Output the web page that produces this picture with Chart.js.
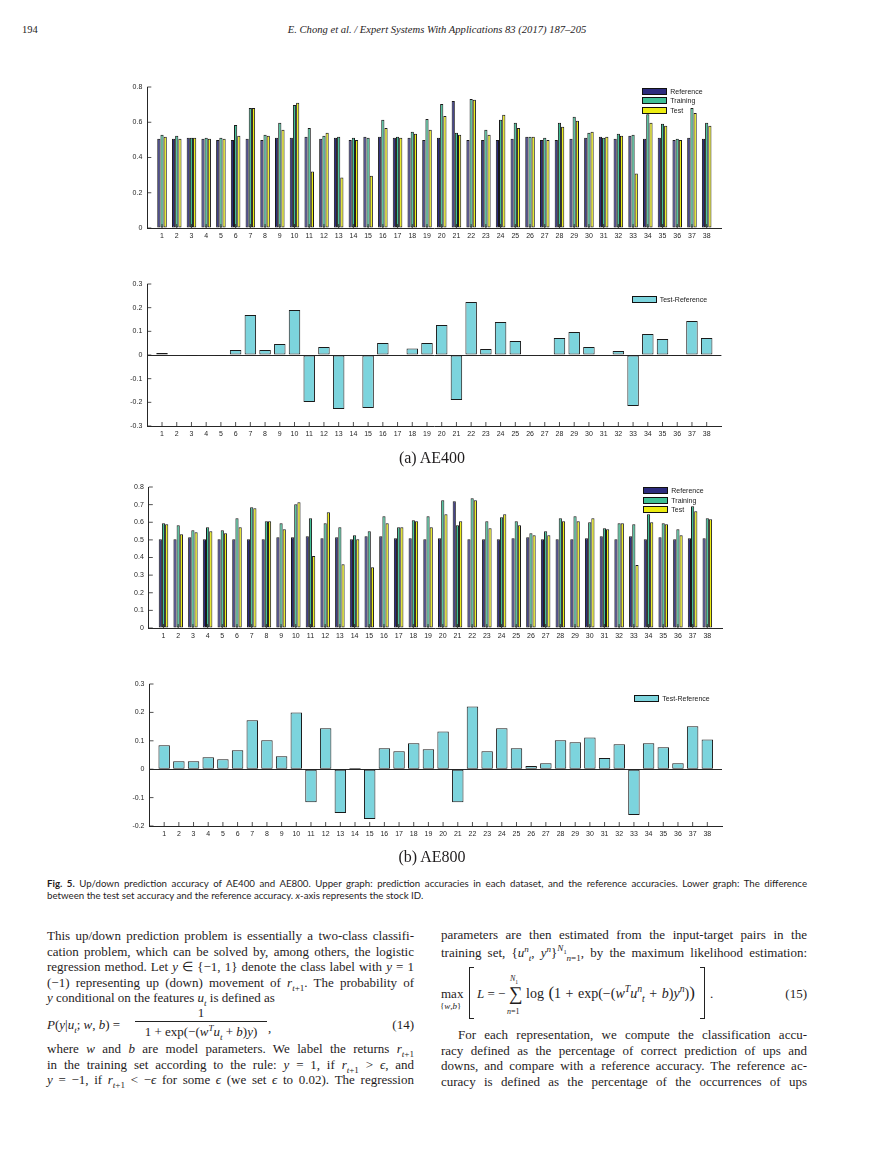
<!DOCTYPE html>
<html>
<head>
<meta charset="utf-8">
<script src="https://cdn.jsdelivr.net/npm/chart.js@4.4.1/dist/chart.umd.min.js"></script>
<style>
  body { margin: 0; background: #fff; }
  #page { position: relative; width: 869px; height: 1158px; overflow: hidden; font-family: "Liberation Serif", serif; color: #1f1c1d; }
  #page canvas { position: absolute; }
  .t { position: absolute; white-space: nowrap; }
  .ln { position: absolute; font-size: 13px; line-height: 16px; text-align: justify; text-align-last: justify; }
  .ln.l { text-align-last: left; }
  .cap { position: absolute; left: 47px; width: 760px; font-family: Lato, "Liberation Sans", sans-serif; font-size: 9.7px; line-height: 12px; text-align: justify; text-align-last: justify; }
  sub, sup { font-size: 70%; line-height: 0; }
  .leg { position: absolute; font-family: "Liberation Sans", Arial, sans-serif; font-size: 7px; color: #222; }
  .leg .sw { position: absolute; border: 1px solid #111; box-sizing: border-box; }
  .leg span { position: absolute; white-space: nowrap; line-height: 7px; }
  .br { position: absolute; border: 1px solid #222; }
</style>
</head>
<body>
<div id="page">
  <div class="t" style="left:22px;top:24px;font-size:10.5px;">194</div>
  <div class="t" style="left:237px;top:24px;width:400px;text-align:center;font-size:10.6px;font-style:italic;">E. Chong et al. / Expert Systems With Applications 83 (2017) 187–205</div>

  <canvas id="c1"></canvas>
  <canvas id="c2"></canvas>
  <canvas id="c3"></canvas>
  <canvas id="c4"></canvas>
  <div id="legends"></div>

  <div class="t" style="left:332px;top:448px;width:200px;text-align:center;font-size:16px;line-height:20px;">(a) AE400</div>
  <div class="t" style="left:332px;top:847px;width:200px;text-align:center;font-size:16px;line-height:20px;">(b) AE800</div>

  <div class="cap" style="top:877px;"><b>Fig. 5.</b> Up/down prediction accuracy of AE400 and AE800. Upper graph: prediction accuracies in each dataset, and the reference accuracies. Lower graph: The difference</div>
  <div class="cap" style="top:889px;text-align-last:left;">between the test set accuracy and the reference accuracy. <i>x</i>-axis represents the stock ID.</div>

  <!-- left column -->
  <div class="ln" style="left:47px;width:367px;top:928px;">This up/down prediction problem is essentially a two-class classifi-</div>
  <div class="ln" style="left:47px;width:367px;top:943.5px;">cation problem, which can be solved by, among others, the logistic</div>
  <div class="ln" style="left:47px;width:367px;top:959px;">regression method. Let <i>y</i> ∈ {−1, 1} denote the class label with <i>y</i> = 1</div>
  <div class="ln" style="left:47px;width:367px;top:974.5px;">(−1) representing up (down) movement of <i>r</i><sub><i>t</i>+1</sub>. The probability of</div>
  <div class="ln l" style="left:47px;width:367px;top:990px;"><i>y</i> conditional on the features <i>u<sub>t</sub></i> is defined as</div>

  <div class="t" style="left:47px;top:1017px;font-size:13px;line-height:16px;"><i>P</i>(<i>y</i>|<i>u<sub>t</sub></i>; <i>w</i>, <i>b</i>) =</div>
  <div class="t" style="left:135px;top:1005px;width:132px;text-align:center;font-size:13px;line-height:16px;">1</div>
  <div style="position:absolute;left:135px;top:1021px;width:132px;border-top:1px solid #222;"></div>
  <div class="t" style="left:135px;top:1024px;width:132px;text-align:center;font-size:13px;line-height:16px;">1 + exp(−(<i>w<sup>T</sup>u<sub>t</sub></i> + <i>b</i>)<i>y</i>)</div>
  <div class="t" style="left:268px;top:1020px;font-size:13px;line-height:16px;">,</div>
  <div class="t" style="left:300px;top:1017px;width:114px;text-align:right;font-size:13px;line-height:16px;">(14)</div>

  <div class="ln" style="left:47px;width:367px;top:1041px;">where <i>w</i> and <i>b</i> are model parameters. We label the returns <i>r</i><sub><i>t</i>+1</sub></div>
  <div class="ln" style="left:47px;width:367px;top:1056.5px;">in the training set according to the rule: <i>y</i> = 1, if <i>r</i><sub><i>t</i>+1</sub> &gt; <i>ϵ</i>, and</div>
  <div class="ln" style="left:47px;width:367px;top:1072px;"><i>y</i> = −1, if <i>r</i><sub><i>t</i>+1</sub> &lt; −<i>ϵ</i> for some <i>ϵ</i> (we set <i>ϵ</i> to 0.02). The regression</div>

  <!-- right column -->
  <div class="ln" style="left:441px;width:366px;top:927px;">parameters are then estimated from the input-target pairs in the</div>
  <div class="ln" style="left:441px;width:366px;top:944.5px;">training set, {<i>u<sup>n</sup><sub>t</sub></i>, <i>y<sup>n</sup></i>}<sup><i>N</i><sub>1</sub></sup><sub><i>n</i>=1</sub>, by the maximum likelihood estimation:</div>

  <div class="t" style="left:441px;top:986px;font-size:13px;line-height:16px;">max</div>
  <div class="t" style="left:440px;top:1001px;font-size:9px;line-height:10px;">{<i>w</i>,<i>b</i>}</div>
  <div class="br" style="left:469px;top:967px;width:4px;height:50px;border-right:none;"></div>
  <div class="t" style="left:477px;top:986px;font-size:13px;line-height:16px;"><i>L</i> = −</div>
  <div class="t" style="left:510px;top:974px;font-size:8px;line-height:10px;"><i>N</i><sub>1</sub></div>
  <div class="t" style="left:509px;top:983px;font-size:19px;line-height:22px;">∑</div>
  <div class="t" style="left:507px;top:1007px;font-size:8px;line-height:10px;"><i>n</i>=1</div>
  <div class="t" style="left:526px;top:985px;font-size:14px;line-height:16px;word-spacing:1px;">log <span style="font-size:17px;">(</span>1 + exp(−(<i>w<sup>T</sup>u<sup>n</sup><sub>t</sub></i> + <i>b</i>)<i>y<sup>n</sup></i>)<span style="font-size:17px;">)</span></div>
  <div class="br" style="left:700px;top:967px;width:4px;height:50px;border-left:none;"></div>
  <div class="t" style="left:710px;top:986px;font-size:13px;line-height:16px;">.</div>
  <div class="t" style="left:700px;top:986px;width:107px;text-align:right;font-size:13px;line-height:16px;">(15)</div>

  <div class="ln" style="left:458px;width:349px;top:1027px;">For each representation, we compute the classification accu-</div>
  <div class="ln" style="left:441px;width:366px;top:1042.5px;">racy defined as the percentage of correct prediction of ups and</div>
  <div class="ln" style="left:441px;width:366px;top:1058px;">downs, and compare with a reference accuracy. The reference ac-</div>
  <div class="ln" style="left:441px;width:366px;top:1073.5px;">curacy is defined as the percentage of the occurrences of ups</div>
</div>

<script>
// stock IDs on the x axis
const stockIds = [1, 2, 3, 4, 5, 6, 7, 8, 9, 10, 11, 12, 13, 14, 15, 16, 17, 18, 19, 20,
  21, 22, 23, 24, 25, 26, 27, 28, 29, 30, 31, 32, 33, 34, 35, 36, 37, 38];
const seriesNames = ['Reference', 'Training', 'Test'];
const diffName = 'Test-Reference';

// AE400
const ae400Ref = [0.506, 0.506, 0.512, 0.506, 0.500, 0.500, 0.506, 0.500, 0.512, 0.512, 0.518, 0.506, 0.512, 0.500, 0.518, 0.518, 0.512, 0.512, 0.500,
  0.512, 0.721, 0.500, 0.500, 0.500, 0.506, 0.518, 0.500, 0.500, 0.506, 0.512, 0.518, 0.506, 0.523, 0.506, 0.512, 0.500, 0.512, 0.506];
const ae400Train = [0.529, 0.523, 0.512, 0.512, 0.512, 0.585, 0.681, 0.529, 0.597, 0.698, 0.568, 0.523, 0.518, 0.512, 0.512, 0.614, 0.518, 0.546, 0.619,
  0.704, 0.540, 0.732, 0.557, 0.614, 0.597, 0.518, 0.512, 0.597, 0.631, 0.540, 0.512, 0.535, 0.529, 0.645, 0.591, 0.506, 0.681, 0.597];
const ae400Test = [0.518, 0.506, 0.512, 0.506, 0.506, 0.523, 0.681, 0.523, 0.557, 0.710, 0.320, 0.540, 0.286, 0.500, 0.297, 0.568, 0.512, 0.535, 0.557,
  0.636, 0.529, 0.727, 0.529, 0.642, 0.568, 0.518, 0.500, 0.574, 0.608, 0.546, 0.518, 0.523, 0.309, 0.597, 0.580, 0.500, 0.653, 0.580];
const ae400Diff = [0.008, 0, -0.004, 0, -0.004, 0.021, 0.169, 0.021, 0.046, 0.190, -0.199, 0.034, -0.228, 0, -0.224, 0.051, 0, 0.027, 0.051,
  0.127, -0.190, 0.224, 0.025, 0.139, 0.059, 0, -0.004, 0.072, 0.097, 0.034, 0, 0.017, -0.215, 0.089, 0.068, -0.004, 0.144, 0.072];

// AE800
const ae800Ref = [0.504, 0.504, 0.515, 0.504, 0.504, 0.504, 0.504, 0.504, 0.515, 0.515, 0.521, 0.509, 0.515, 0.504, 0.521, 0.521, 0.509, 0.509, 0.504,
  0.509, 0.719, 0.504, 0.504, 0.504, 0.509, 0.515, 0.504, 0.504, 0.504, 0.509, 0.521, 0.504, 0.521, 0.504, 0.515, 0.504, 0.509, 0.509];
const ae800Train = [0.594, 0.583, 0.555, 0.572, 0.555, 0.623, 0.685, 0.606, 0.594, 0.702, 0.623, 0.594, 0.572, 0.526, 0.549, 0.634, 0.572, 0.611, 0.634,
  0.725, 0.583, 0.736, 0.606, 0.628, 0.606, 0.538, 0.549, 0.623, 0.634, 0.600, 0.566, 0.594, 0.589, 0.645, 0.594, 0.560, 0.691, 0.623];
const ae800Test = [0.589, 0.532, 0.543, 0.549, 0.538, 0.572, 0.679, 0.606, 0.560, 0.713, 0.408, 0.657, 0.362, 0.504, 0.345, 0.594, 0.572, 0.606, 0.572,
  0.645, 0.606, 0.725, 0.566, 0.645, 0.583, 0.526, 0.526, 0.606, 0.606, 0.623, 0.560, 0.594, 0.357, 0.600, 0.589, 0.526, 0.662, 0.617];
const ae800Diff = [0.084, 0.028, 0.028, 0.042, 0.035, 0.067, 0.172, 0.102, 0.046, 0.200, -0.116, 0.144, -0.154, 0.004, -0.175, 0.074, 0.063, 0.091, 0.070,
  0.133, -0.116, 0.221, 0.063, 0.144, 0.074, 0.011, 0.021, 0.102, 0.095, 0.112, 0.039, 0.088, -0.161, 0.091, 0.077, 0.021, 0.151, 0.105];

// y tick values
const accTicks400 = [0, 0.2, 0.4, 0.6, 0.8];
const accTicks800 = [0, 0.1, 0.2, 0.3, 0.4, 0.5, 0.6, 0.7, 0.8];
const diffTicks400 = [-0.3, -0.2, -0.1, 0, 0.1, 0.2, 0.3];
const diffTicks800 = [-0.2, -0.1, 0, 0.1, 0.2, 0.3];

const colors = ['#2c2b7d', '#3fbf95', '#ecec12'];
const diffColor = '#7cd4dd';
const axisColor = '#262626';
const tickFont = { family: '"Liberation Sans", Arial, sans-serif', size: 7 };

function toPoints(vals) {
  return stockIds.map((id, i) => ({ x: id, y: vals[i] }));
}

function fmt(v) {
  return Math.abs(v) < 1e-9 ? '0' : String(Math.round(v * 10) / 10);
}

// matlab style ticks pointing into the plot
const inwardTicks = {
  id: 'inwardTicks',
  afterDraw(chart) {
    const { ctx, chartArea: a, scales: { x, y } } = chart;
    ctx.save();
    ctx.strokeStyle = axisColor;
    ctx.lineWidth = 0.8;
    ctx.beginPath();
    x.ticks.forEach(t => {
      const px = x.getPixelForValue(t.value);
      ctx.moveTo(px, a.bottom);
      ctx.lineTo(px, a.bottom - 4);
    });
    y.ticks.forEach(t => {
      const py = y.getPixelForValue(t.value);
      ctx.moveTo(a.left, py);
      ctx.lineTo(a.left + 4, py);
    });
    ctx.stroke();
    ctx.restore();
  }
};

// box = plot area in page pixels
function makeChart(id, box, datasets, yMin, yMax, yTicks, catPct) {
  const cv = document.getElementById(id);
  const cl = 100, cw = 640, ct = box.top - 10, ch = box.bottom - box.top + 10 + 24;
  cv.style.left = cl + 'px';
  cv.style.top = ct + 'px';
  cv.width = cw;
  cv.height = ch;
  new Chart(cv, {
    type: 'bar',
    data: { datasets: datasets },
    options: {
      responsive: false,
      animation: false,
      layout: { padding: { left: 0, top: 10, right: cl + cw - box.right, bottom: 0 } },
      plugins: { legend: { display: false }, tooltip: { enabled: false } },
      datasets: {
        bar: { categoryPercentage: catPct, barPercentage: 1, borderWidth: 1, borderColor: '#1a1a1a', borderSkipped: false }
      },
      scales: {
        x: {
          type: 'linear', min: 0, max: 39, offset: false,
          afterBuildTicks: s => { s.ticks = stockIds.map(v => ({ value: v })); },
          afterFit: s => { s.height = 24; },
          grid: { drawTicks: false, color: 'rgba(0,0,0,0)', offset: false },
          border: { display: true, color: axisColor, width: 1 },
          ticks: { padding: 4, autoSkip: false, maxRotation: 0, font: tickFont, color: axisColor, callback: v => String(v) }
        },
        y: {
          min: yMin, max: yMax,
          afterBuildTicks: s => { s.ticks = yTicks.map(v => ({ value: v })); },
          afterFit: s => { s.width = box.left - cl; },
          grid: {
            drawTicks: false,
            color: c => (yMin < 0 && c.tick && Math.abs(c.tick.value) < 1e-9) ? axisColor : 'rgba(0,0,0,0)'
          },
          border: { display: true, color: axisColor, width: 1 },
          ticks: { padding: 5, font: tickFont, color: axisColor, callback: v => fmt(v) }
        }
      }
    },
    plugins: [inwardTicks]
  });
}

function groupSets(ref, train, test) {
  return [ref, train, test].map((vals, i) => ({
    label: seriesNames[i], data: toPoints(vals), backgroundColor: colors[i]
  }));
}

function diffSet(vals) {
  return [{ label: diffName, data: toPoints(vals), backgroundColor: diffColor }];
}

makeChart('c1', { left: 147.3, right: 721.4, top: 87.3, bottom: 229 }, groupSets(ae400Ref, ae400Train, ae400Test), 0, 0.8, accTicks400, 0.65);
makeChart('c2', { left: 147.3, right: 721.4, top: 284.3, bottom: 426.3 }, diffSet(ae400Diff), -0.3, 0.3, diffTicks400, 0.78);
makeChart('c3', { left: 148.8, right: 722, top: 487, bottom: 628.3 }, groupSets(ae800Ref, ae800Train, ae800Test), 0, 0.8, accTicks800, 0.65);
makeChart('c4', { left: 149.5, right: 722, top: 684, bottom: 826.3 }, diffSet(ae800Diff), -0.2, 0.3, diffTicks800, 0.78);

// legends drawn as html boxes in the upper right of each plot
function legend(x, y, rowGap, names, cols) {
  const box = document.createElement('div');
  box.className = 'leg';
  box.style.left = x + 'px';
  box.style.top = y + 'px';
  names.forEach((n, i) => {
    const sw = document.createElement('div');
    sw.className = 'sw';
    sw.style.cssText = `left:0;top:${i * rowGap}px;width:25px;height:7px;background:${cols[i]};`;
    const tx = document.createElement('span');
    tx.textContent = n;
    tx.style.cssText = `left:28px;top:${i * rowGap}px;`;
    box.appendChild(sw);
    box.appendChild(tx);
  });
  document.getElementById('legends').appendChild(box);
}
legend(642.3, 88.3, 9.2, seriesNames, colors);
legend(631.7, 295.5, 0, [diffName], [diffColor]);
legend(643.3, 487.3, 9.4, seriesNames, colors);
legend(634.3, 695.3, 0, [diffName], [diffColor]);
</script>
</body>
</html>
